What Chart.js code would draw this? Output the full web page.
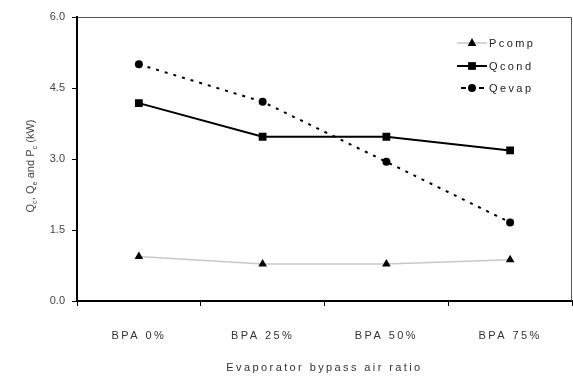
<!DOCTYPE html>
<html>
<head>
<meta charset="utf-8">
<script src="https://cdn.jsdelivr.net/npm/chart.js@4/dist/chart.umd.min.js"></script>
<style>
html,body{margin:0;padding:0;background:#fff;}
#wrap{width:573px;height:379px;position:relative;}
</style>
</head>
<body>
<div id="wrap"><canvas id="c" width="573" height="379"></canvas></div>
<script>
const categories = ['BPA 0%', 'BPA 25%', 'BPA 50%', 'BPA 75%'];
const pcomp = [0.94, 0.78, 0.78, 0.87];
const qcond = [4.18, 3.47, 3.47, 3.18];
const qevap = [5.0, 4.21, 2.94, 1.66];
const yTicks = [0, 1.5, 3.0, 4.5, 6.0];
const seriesNames = ['Pcomp', 'Qcond', 'Qevap'];
const xTitle = 'Evaporator bypass air ratio';
const yTitleParts = [['Q',0],['c',1],[', Q',0],['e',1],[' and P',0],['c',1],[' (kW)',0]];

const FONT = "'Liberation Sans', Arial, sans-serif";

function drawMarker(ctx, style, x, y, r) {
  ctx.beginPath();
  if (style === 'triangle') {
    ctx.moveTo(x, y - r);
    ctx.lineTo(x + r * 0.87, y + r * 0.5 + 0.5);
    ctx.lineTo(x - r * 0.87, y + r * 0.5 + 0.5);
    ctx.closePath();
  } else if (style === 'rect') {
    const s = r * Math.SQRT1_2;
    ctx.rect(x - s, y - s, 2 * s, 2 * s);
  } else {
    ctx.arc(x, y, r, 0, Math.PI * 2);
  }
  ctx.fillStyle = '#000';
  ctx.fill();
}

const spacingPlugin = {
  id: 'spacing',
  beforeDraw(chart) {
    chart.ctx.letterSpacing = '2.4px';
  },
  beforeDatasetsDraw(chart) {
    const ctx = chart.ctx, a = chart.chartArea;
    ctx.save();
    ctx.letterSpacing = '0px';
    ctx.strokeStyle = '#555';
    ctx.lineWidth = 1;
    ctx.beginPath();
    ctx.moveTo(a.left, a.top + 0.5);
    ctx.lineTo(a.right - 0.5, a.top + 0.5);
    ctx.lineTo(a.right - 0.5, a.bottom);
    ctx.stroke();
    ctx.restore();
  },
  afterDatasetsDraw(chart) {
    chart.ctx.letterSpacing = '0px';
  },
  afterDraw(chart) {
    const ctx = chart.ctx;
    ctx.save();
    ctx.letterSpacing = '0px';
    ctx.fillStyle = '#444';
    ctx.translate(31, 166);
    ctx.rotate(-Math.PI / 2);
    const mainF = '11px ' + FONT, subF = '7.5px ' + FONT;
    let total = 0;
    yTitleParts.forEach(p => { ctx.font = p[1] ? subF : mainF; total += ctx.measureText(p[0]).width; });
    let x = -total / 2;
    ctx.textBaseline = 'middle';
    ctx.textAlign = 'left';
    yTitleParts.forEach(p => {
      ctx.font = p[1] ? subF : mainF;
      ctx.fillText(p[0], x, p[1] ? 3.5 : 0);
      x += ctx.measureText(p[0]).width;
    });
    ctx.restore();

    ctx.save();
    ctx.letterSpacing = '2.4px';
    ctx.font = '11px ' + FONT;
    ctx.textBaseline = 'middle';
    ctx.textAlign = 'left';
    const ys = [43, 66, 88];
    chart.data.datasets.forEach((ds, i) => {
      const y = ys[i];
      ctx.save();
      ctx.strokeStyle = ds.borderColor;
      ctx.lineWidth = ds.borderWidth;
      ctx.beginPath();
      if (ds.borderDash && ds.borderDash.length) {
        ctx.moveTo(461, y); ctx.lineTo(466, y);
        ctx.moveTo(479, y); ctx.lineTo(484, y);
      } else {
        ctx.moveTo(457, y); ctx.lineTo(487, y);
      }
      ctx.stroke();
      ctx.restore();
      drawMarker(ctx, ds.pointStyle, 472, y, ds.pointRadius);
      ctx.fillStyle = '#222';
      ctx.fillText(ds.label, 489, y + 1);
    });
    ctx.restore();
  }
};

const ctx = document.getElementById('c').getContext('2d');
new Chart(ctx, {
  type: 'line',
  data: {
    labels: categories,
    datasets: [
      {
        label: seriesNames[0], data: pcomp,
        borderColor: '#c8c8c8', borderWidth: 1.5,
        pointStyle: 'triangle', pointRadius: 5, pointBackgroundColor: '#000', pointBorderColor: '#000', pointBorderWidth: 0
      },
      {
        label: seriesNames[1], data: qcond,
        borderColor: '#000', borderWidth: 2,
        pointStyle: 'rect', pointRadius: 5.5, pointBackgroundColor: '#000', pointBorderColor: '#000', pointBorderWidth: 0
      },
      {
        label: seriesNames[2], data: qevap,
        borderColor: '#000', borderWidth: 2, borderDash: [3, 6],
        pointStyle: 'circle', pointRadius: 4, pointBackgroundColor: '#000', pointBorderColor: '#000', pointBorderWidth: 0
      }
    ]
  },
  options: {
    responsive: false,
    animation: false,
    devicePixelRatio: 1,
    layout: { autoPadding: false, padding: { top: 17, right: 1, left: 0, bottom: 0 } },
    plugins: { legend: { display: false }, tooltip: { enabled: false } },
    scales: {
      x: {
        offset: true,
        grid: { display: true, offset: true, drawOnChartArea: false, color: '#000', tickLength: 5, tickWidth: 1 },
        border: { display: true, color: '#000', width: 2 },
        ticks: { color: '#333', font: { family: FONT, size: 11 }, padding: 23, maxRotation: 0, autoSkip: false },
        title: { display: true, text: xTitle, color: '#333', font: { family: FONT, size: 11 }, padding: { top: 4, bottom: 4 } },
        afterFit(s) { s.height = 78; s.paddingLeft = 0; s.paddingRight = 0; }
      },
      y: {
        min: 0, max: 6,
        afterBuildTicks(s) { s.ticks = yTicks.map(v => ({ value: v })); },
        grid: { display: true, drawOnChartArea: false, color: '#000', tickLength: 5, tickWidth: 1, z: 1 },
        border: { display: true, color: '#000', width: 2, z: 1 },
        ticks: { z: 1, color: '#444', font: { family: FONT, size: 11 }, padding: 7, callback: v => Number(v).toFixed(1) },
        afterFit(s) { s.width = 77; s.paddingTop = 0; s.paddingBottom = 0; }
      }
    }
  },
  plugins: [spacingPlugin]
});
</script>
</body>
</html>
